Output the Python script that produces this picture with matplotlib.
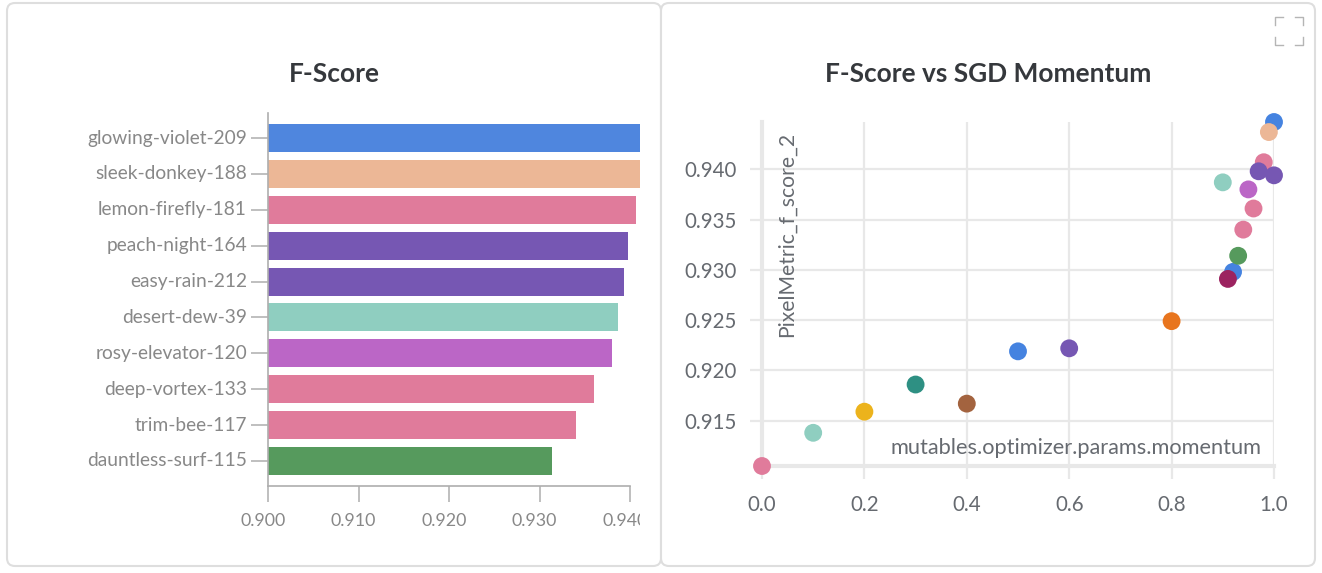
from matplotlib import pyplot as plt
from matplotlib.lines import Line2D
from matplotlib.patches import FancyBboxPatch
from matplotlib.transforms import Bbox, ScaledTranslation

W, H = 1322, 573

run_names = ["glowing-violet-209", "sleek-donkey-188", "lemon-firefly-181", "peach-night-164",
             "easy-rain-212", "desert-dew-39", "rosy-elevator-120", "deep-vortex-133",
             "trim-bee-117", "dauntless-surf-115"]
run_scores = [0.9447, 0.9437, 0.9407, 0.9398, 0.9393, 0.9387, 0.9380, 0.9360, 0.9340, 0.9314]
run_colors = ["#4f86de", "#ecb796", "#e07b9b", "#7657b3", "#7657b3",
              "#8fcec0", "#bb66c6", "#e07b9b", "#e07b9b", "#569a5d"]
bar_ticks = [0.90, 0.91, 0.92, 0.93, 0.94]

momentum = [0.0, 0.1, 0.2, 0.3, 0.4, 0.5, 0.6, 0.8, 0.92, 0.91, 0.93, 0.94, 0.96, 0.95,
            0.90, 0.98, 0.97, 1.0, 1.0, 0.99]
f_score = [0.9105, 0.9138, 0.9159, 0.9186, 0.9167, 0.9219, 0.9222, 0.9249, 0.9298, 0.9291,
           0.9314, 0.9340, 0.9361, 0.9380, 0.9387, 0.9407, 0.9398, 0.9394, 0.9447, 0.9437]
point_colors = ["#e07b9b", "#8fcec0", "#ecb31c", "#2e9083", "#a3633f", "#4583e0", "#7657b3",
                "#e8751e", "#4583e0", "#9c2360", "#569a5d", "#e07b9b", "#e07b9b", "#bb66c6",
                "#8fcec0", "#e07b9b", "#7657b3", "#7657b3", "#4583e0", "#ecb796"]
x_ticks = [0.0, 0.2, 0.4, 0.6, 0.8, 1.0]
y_ticks = [0.915, 0.920, 0.925, 0.930, 0.935, 0.940]

plt.rcParams["font.family"] = ["Lato", "DejaVu Sans"]

fig = plt.figure(figsize=(W / 100, H / 100), dpi=100)


def px_axes(left, top, right, bottom):
    return fig.add_axes([left / W, 1 - bottom / H, (right - left) / W, (bottom - top) / H])


# panel frames
for left, right in [(7, 661), (661, 1315)]:
    fig.add_artist(FancyBboxPatch((left / W, 1 - 566 / H), (right - left) / W, 563 / H,
                                  boxstyle="round,pad=0,rounding_size=0.006", mutation_aspect=W / H,
                                  transform=fig.transFigure, fc="white", ec="#dedede", lw=1.5, zorder=-1))

# bar chart
ax1 = px_axes(268, 113, 640, 486)
ax1.barh(run_names, run_scores, height=28 / 36, color=run_colors)
ax1.set_xlim(0.9, 0.9411)
ax1.set_ylim(9.7, -0.7)
for side in ["top", "right"]:
    ax1.spines[side].set_visible(False)
for side in ["left", "bottom"]:
    ax1.spines[side].set_color("#aeaeae")
    ax1.spines[side].set_linewidth(1.2)
ax1.spines["bottom"].set_bounds(0.9, 0.94)
ax1.set_xticks(bar_ticks, [f"{v:.3f}" for v in bar_ticks])
ax1.tick_params(axis="y", length=12, width=1.1, color="#aeaeae", labelcolor="#888888", labelsize=13.8, pad=3.2)
ax1.tick_params(axis="x", length=11.5, width=1.1, color="#aeaeae", labelcolor="#888888", labelsize=12.8, pad=8.3)
shift_x = ScaledTranslation(-5 / 100, 0, fig.dpi_scale_trans)
shift_y = ScaledTranslation(0, 1.5 / 100, fig.dpi_scale_trans)
clip = Bbox([[0, 0], [640, H]])
for label in ax1.get_xticklabels():
    label.set_transform(label.get_transform() + shift_x)
    label.set_clip_box(clip)
    label.set_clip_on(True)
for label in ax1.get_yticklabels():
    label.set_transform(label.get_transform() + shift_y)
fig.text(334 / W, 1 - 73.5 / H, "F-Score", ha="center", va="center", fontsize=19, fontweight="bold", color="#35383c")

# scatter
ax2 = px_axes(762, 122, 1274, 466)
ax2.patch.set_alpha(0)
ax2.set_xlim(0, 1)
ax2.set_ylim(0.9105, 0.9447)
ax2.grid(True, color="#e8e8e8", lw=1.6)
ax2.set_axisbelow(True)
for side in ["top", "right"]:
    ax2.spines[side].set_visible(False)
for side in ["left", "bottom"]:
    ax2.spines[side].set_color("#e8e8e8")
    ax2.spines[side].set_linewidth(3)
ax2.set_xticks(x_ticks, [f"{v:.1f}" for v in x_ticks])
ax2.set_yticks(y_ticks, [f"{v:.3f}" for v in y_ticks])
ax2.tick_params(length=9, width=1.6, color="#e8e8e8", labelcolor="#666a70", labelsize=14.8, pad=9)
ax2.tick_params(axis="x", pad=12)
ax2.scatter(momentum, f_score, s=165, c=point_colors, linewidths=0, clip_on=False, zorder=3)
fig.text(1262 / W, 1 - 447.5 / H, "mutables.optimizer.params.momentum", ha="right", va="center",
         fontsize=15.7, color="#666a70")
fig.text(787 / W, 1 - 234 / H, "PixelMetric_f_score_2", ha="center", va="center", rotation=90,
         fontsize=15.2, color="#666a70")
fig.text(988 / W, 1 - 73.5 / H, "F-Score vs SGD Momentum", ha="center", va="center", fontsize=18.9,
         fontweight="bold", color="#35383c")

# fullscreen icon corners
for x0, y0, dx, dy in [(1275, 17, 1, 1), (1303, 17, -1, 1), (1275, 45, 1, -1), (1303, 45, -1, -1)]:
    fig.add_artist(Line2D([(x0 + dx * 8) / W, x0 / W, x0 / W], [1 - y0 / H, 1 - y0 / H, 1 - (y0 + dy * 8) / H],
                          color="#b5b5b5", lw=1, transform=fig.transFigure))

fig.savefig("out.png", dpi=100)
